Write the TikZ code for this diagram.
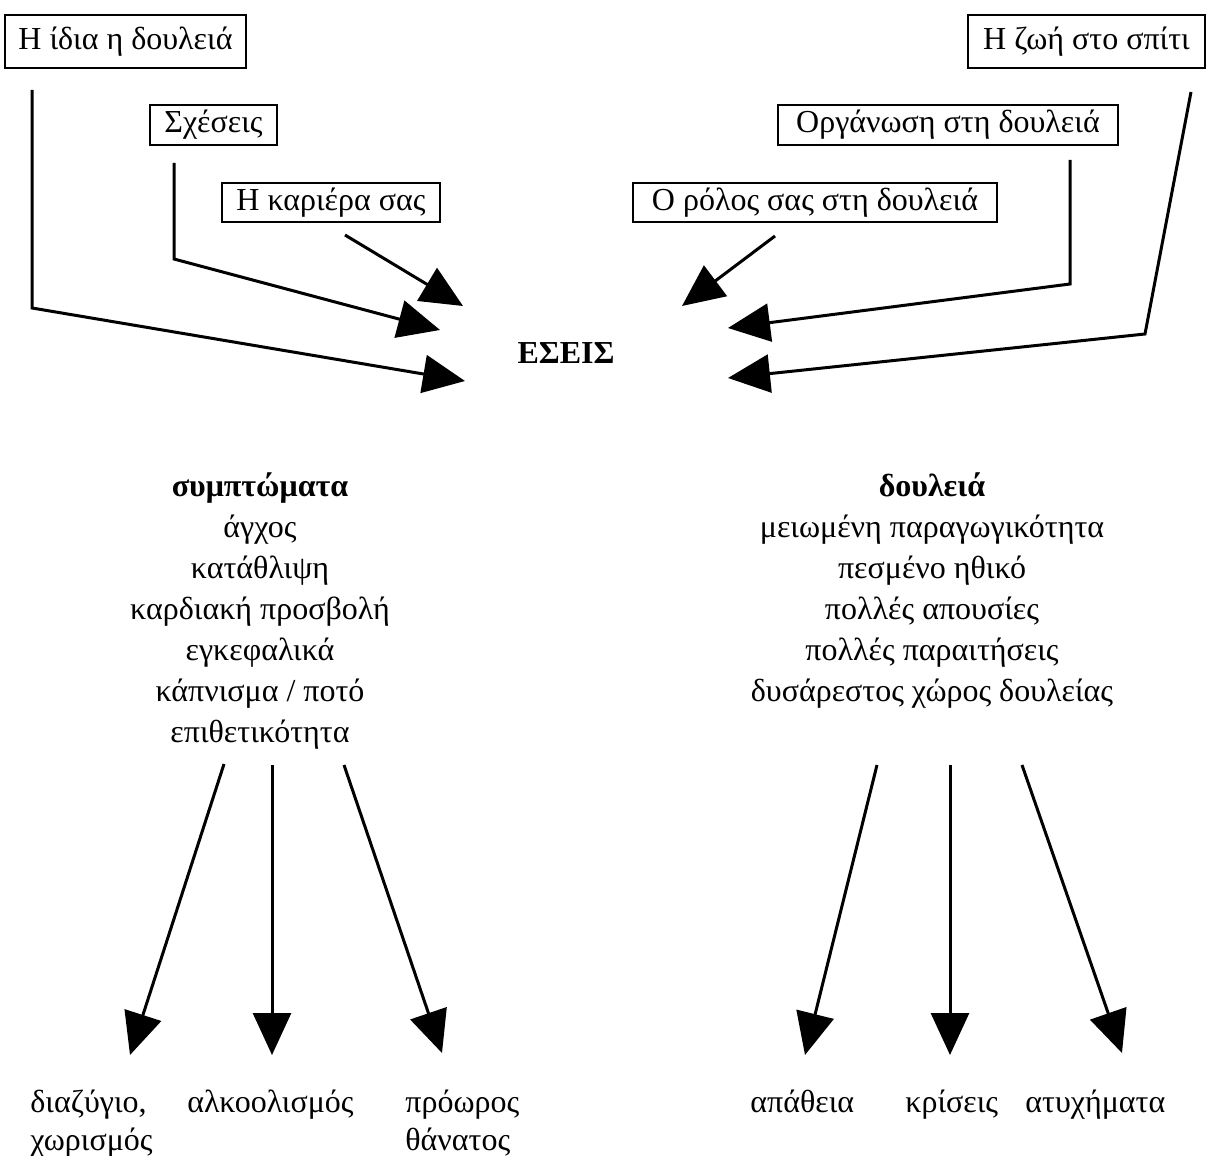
\documentclass[tikz,border=0pt]{standalone}
\usepackage{fontspec}
\setmainfont{Liberation Serif}
\usetikzlibrary{arrows.meta}
\tikzset{
	box/.style={draw, line width=0.7pt, inner sep=0pt, font=\fontsize{16}{20}\selectfont},
	arr/.style={line width=1.5pt, -{Triangle[length=21pt,width=19pt]}},
	block/.style={align=center, anchor=north, inner sep=0pt, font=\fontsize{16}{20.5}\selectfont},
	lbl/.style={align=left, anchor=north west, inner sep=0pt, font=\fontsize{16}{19}\selectfont}
}

\begin{document}
\begin{tikzpicture}[x=0.5pt, y=-0.5pt]
	\useasboundingbox (0,0) rectangle (1212,1156);
	\node[box, minimum width=120.5pt, minimum height=26.5pt] (idia) at (125.5,41.5) {Η ίδια η δουλειά};
	\node[box, minimum width=63.5pt, minimum height=20pt] (sxeseis) at (213.5,125) {Σχέσεις};
	\node[box, minimum width=109pt, minimum height=19.5pt] (kariera) at (331,202.5) {Η καριέρα σας};
	\node[box, minimum width=118.5pt, minimum height=26.5pt] (zoi) at (1086.5,41.5) {Η ζωή στο σπίτι};
	\node[box, minimum width=170pt, minimum height=20pt] (organosi) at (948,125) {Οργάνωση στη δουλειά};
	\node[box, minimum width=182pt, minimum height=19.5pt] (rolos) at (815,202.5) {Ο ρόλος σας στη δουλειά};
	\node[inner sep=0pt, font=\fontsize{16}{20}\selectfont\bfseries] (eseis) at (566,353) {ΕΣΕΙΣ};
	\coordinate (idia-a) at (32,90);
	\coordinate (idia-b) at (32,308);
	\coordinate (idia-c) at (465,381);
	\coordinate (sxeseis-a) at (174,163);
	\coordinate (sxeseis-b) at (174,259);
	\coordinate (sxeseis-c) at (440,330);
	\coordinate (kariera-a) at (345,235);
	\coordinate (kariera-c) at (463,306);
	\coordinate (zoi-a) at (1191,92);
	\coordinate (zoi-b) at (1145,334);
	\coordinate (zoi-c) at (728,378);
	\coordinate (organosi-a) at (1070,160);
	\coordinate (organosi-b) at (1070,284);
	\coordinate (organosi-c) at (728,328);
	\coordinate (rolos-a) at (775,236);
	\coordinate (rolos-c) at (682,306);
	\draw[arr] (idia-a) -- (idia-b) -- (idia-c);
	\draw[arr] (sxeseis-a) -- (sxeseis-b) -- (sxeseis-c);
	\draw[arr] (kariera-a) -- (kariera-c);
	\draw[arr] (zoi-a) -- (zoi-b) -- (zoi-c);
	\draw[arr] (organosi-a) -- (organosi-b) -- (organosi-c);
	\draw[arr] (rolos-a) -- (rolos-c);
	\node[block] (symptomata) at (260,472) {\textbf{συμπτώματα}\\άγχος\\κατάθλιψη\\καρδιακή προσβολή\\εγκεφαλικά\\κάπνισμα / ποτό\\επιθετικότητα};
	\node[block] (douleia) at (932,472) {\textbf{δουλειά}\\μειωμένη παραγωγικότητα\\πεσμένο ηθικό\\πολλές απουσίες\\πολλές παραιτήσεις\\δυσάρεστος χώρος δουλείας};
	\coordinate (symptomata-a) at (224,764);
	\coordinate (symptomata-b) at (272,765);
	\coordinate (symptomata-c) at (344,765);
	\coordinate (douleia-a) at (877,765);
	\coordinate (douleia-b) at (950,765);
	\coordinate (douleia-c) at (1022,765);
	\coordinate (diazygio) at (130,1055);
	\coordinate (alkoolismos) at (272,1055);
	\coordinate (thanatos) at (442,1053);
	\coordinate (apatheia) at (805,1055);
	\coordinate (kriseis) at (950,1055);
	\coordinate (atyximata) at (1122,1053);
	\draw[arr] (symptomata-a) -- (diazygio);
	\draw[arr] (symptomata-b) -- (alkoolismos);
	\draw[arr] (symptomata-c) -- (thanatos);
	\draw[arr] (douleia-a) -- (apatheia);
	\draw[arr] (douleia-b) -- (kriseis);
	\draw[arr] (douleia-c) -- (atyximata);
	\node[lbl] (diazygio-t) at (30,1090) {διαζύγιο,\\χωρισμός};
	\node[lbl] (alkoolismos-t) at (187,1090) {αλκοολισμός};
	\node[lbl] (thanatos-t) at (405,1090) {πρόωρος\\θάνατος};
	\node[lbl] (apatheia-t) at (750,1090) {απάθεια};
	\node[lbl] (kriseis-t) at (905,1090) {κρίσεις};
	\node[lbl] (atyximata-t) at (1025,1090) {ατυχήματα};
\end{tikzpicture}
\end{document}
